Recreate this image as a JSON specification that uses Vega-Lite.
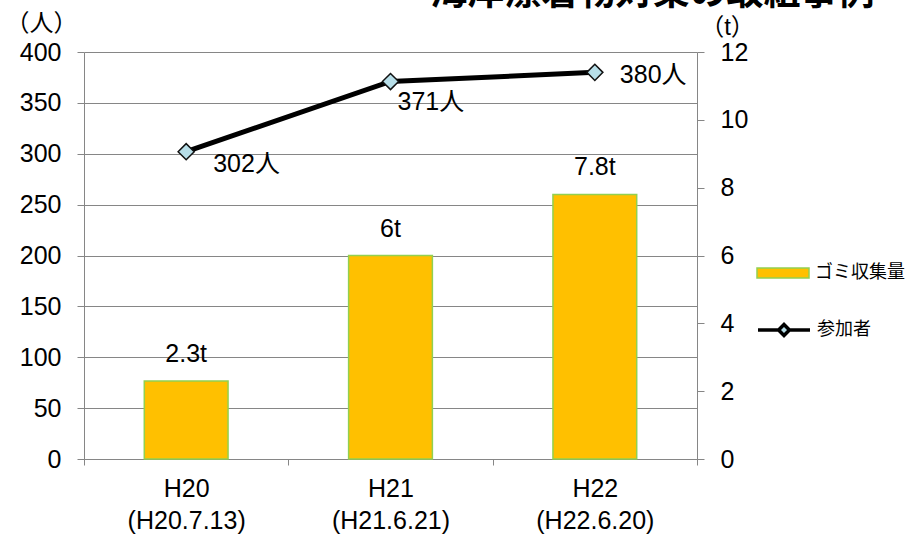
{
  "$schema": "https://vega.github.io/schema/vega-lite/v6.json",
  "width": 613,
  "height": 407,
  "autosize": {"type": "none"},
  "padding": {"left": 84, "top": 52, "right": 212, "bottom": 78},
  "background": "#ffffff",
  "config": {
    "view": {"stroke": null},
    "font": "Liberation Sans, Noto Sans CJK JP",
    "axis": {
      "labelFont": "Liberation Sans, Noto Sans CJK JP",
      "titleFont": "Liberation Sans, Noto Sans CJK JP",
      "labelFontSize": 25,
      "labelColor": "#000000",
      "titleFontSize": 24,
      "titleFontWeight": "normal",
      "titleColor": "#000000",
      "domainColor": "#868686",
      "tickColor": "#868686",
      "gridColor": "#868686"
    },
    "legend": {
      "labelFont": "Liberation Sans, Noto Sans CJK JP",
      "labelFontSize": 18,
      "labelColor": "#000000"
    }
  },
  "title": {
    "text": "海岸漂着物対策の取組事例",
    "font": "Noto Sans CJK JP",
    "fontSize": 37,
    "fontWeight": "bold",
    "color": "#000000",
    "anchor": "middle",
    "frame": "group",
    "baseline": "bottom",
    "dx": 262,
    "offset": -39
  },
  "data": {
    "values": [
      {"cat": "H20\n(H20.7.13)", "waste": 2.3, "wasteLabel": "2.3t", "people": 302, "peopleLabel": "302人"},
      {"cat": "H21\n(H21.6.21)", "waste": 6, "wasteLabel": "6t", "people": 371, "peopleLabel": "371人"},
      {"cat": "H22\n(H22.6.20)", "waste": 7.8, "wasteLabel": "7.8t", "people": 380, "peopleLabel": "380人"}
    ]
  },
  "encoding": {
    "x": {
      "field": "cat",
      "type": "nominal",
      "sort": null,
      "scale": {"paddingInner": 0, "paddingOuter": 0},
      "axis": {
        "title": null,
        "labelAngle": 0,
        "labelExpr": "split(datum.label, '\\n')",
        "labelLineHeight": 32,
        "labelPadding": 11,
        "labelBaseline": "top",
        "tickBand": "extent",
        "tickSize": 6,
        "domainColor": "#868686"
      }
    }
  },
  "layer": [
    {
      "encoding": {
        "y": {
          "field": "waste",
          "type": "quantitative",
          "scale": {"domain": [0, 12], "nice": false},
          "axis": {
            "orient": "right",
            "title": "（t）",
            "titleAngle": 0,
            "titleX": 30,
            "titleY": -25,
            "titleAlign": "center",
            "titleBaseline": "middle",
            "values": [0, 2, 4, 6, 8, 10, 12],
            "grid": false,
            "tickSize": 7,
            "labelPadding": 16
          }
        }
      },
      "layer": [
        {
          "mark": {"type": "bar", "stroke": "#92D050", "strokeWidth": 1.5, "width": {"band": 0.41}},
          "encoding": {
            "fill": {
              "datum": "ゴミ収集量",
              "scale": {"range": ["#FFC000"]},
              "legend": {
                "title": null,
                "orient": "none",
                "legendX": 672,
                "legendY": 194,
                "padding": 0,
                "symbolType": "M-1,-0.19H1V0.19H-1Z",
                "symbolSize": 2704,
                "symbolStrokeColor": "#92D050",
                "symbolStrokeWidth": 1.5,
                "symbolOpacity": 1,
                "labelOffset": 5
              }
            }
          }
        },
        {
          "mark": {"type": "text", "baseline": "alphabetic", "dy": -19, "fontSize": 25, "color": "#000000"},
          "encoding": {"text": {"field": "wasteLabel"}}
        }
      ]
    },
    {
      "encoding": {
        "y": {
          "field": "people",
          "type": "quantitative",
          "scale": {"domain": [0, 400], "nice": false},
          "axis": {
            "orient": "left",
            "title": "（人）",
            "titleAngle": 0,
            "titleX": -43,
            "titleY": -29,
            "titleAlign": "center",
            "titleBaseline": "middle",
            "values": [0, 50, 100, 150, 200, 250, 300, 350, 400],
            "grid": true,
            "tickSize": 7,
            "labelPadding": 16
          }
        }
      },
      "layer": [
        {
          "mark": {"type": "line", "color": "#000000", "strokeWidth": 5},
          "encoding": {
            "stroke": {
              "datum": "参加者",
              "scale": {"range": ["#000000"]},
              "legend": {
                "title": null,
                "orient": "none",
                "legendX": 672,
                "legendY": 250,
                "padding": 0,
                "symbolType": "M-1,0H-0.21M0.21,0H1M0,-0.21L0.21,0L0,0.21L-0.21,0Z",
                "symbolSize": 2704,
                "symbolStrokeWidth": 3.5,
                "symbolFillColor": "#B7DEE8",
                "symbolOpacity": 1,
                "labelOffset": 5,
                "encode": {"symbols": {"update": {"fill": {"value": "#B7DEE8"}}}}
              }
            }
          }
        },
        {
          "mark": {"type": "point", "shape": "diamond", "size": 260, "filled": true, "fill": "#B7DEE8", "stroke": "#111111", "strokeWidth": 1.5, "opacity": 1}
        },
        {
          "transform": [{"filter": "datum.people == 302"}],
          "mark": {"type": "text", "align": "left", "baseline": "middle", "dx": 27, "dy": 12, "fontSize": 25, "color": "#000000"},
          "encoding": {"text": {"field": "peopleLabel"}}
        },
        {
          "transform": [{"filter": "datum.people == 371"}],
          "mark": {"type": "text", "align": "left", "baseline": "middle", "dx": 7, "dy": 20, "fontSize": 25, "color": "#000000"},
          "encoding": {"text": {"field": "peopleLabel"}}
        },
        {
          "transform": [{"filter": "datum.people == 380"}],
          "mark": {"type": "text", "align": "left", "baseline": "middle", "dx": 25, "dy": 3, "fontSize": 25, "color": "#000000"},
          "encoding": {"text": {"field": "peopleLabel"}}
        }
      ]
    }
  ],
  "resolve": {"scale": {"y": "independent", "fill": "independent", "stroke": "independent"}, "axis": {"y": "independent"}}
}
